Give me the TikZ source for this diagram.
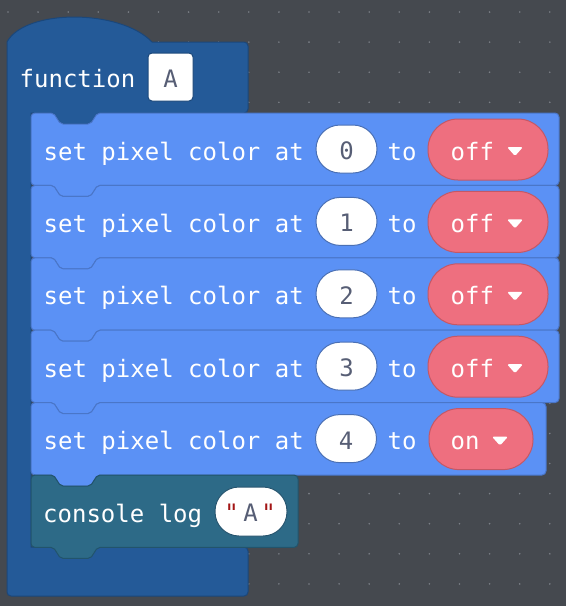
\documentclass[tikz,border=0pt]{standalone}
\usepackage{fontspec}
\newfontfamily\blkfont{DejaVu Sans Mono}
\definecolor{bgc}{HTML}{45494F}
\definecolor{dotc}{HTML}{7A7F86}
\definecolor{fnfill}{HTML}{245A98}
\definecolor{fnstroke}{HTML}{1B477A}
\definecolor{pxfill}{HTML}{5B91F5}
\definecolor{pxstroke}{HTML}{4A76C8}
\definecolor{ddfill}{HTML}{EE6F7F}
\definecolor{ddstroke}{HTML}{C45866}
\definecolor{tealfill}{HTML}{2D6A87}
\definecolor{tealstroke}{HTML}{22546C}
\definecolor{pillstroke}{HTML}{4A70B5}
\definecolor{strstroke}{HTML}{285670}
\definecolor{valtext}{HTML}{575E75}
\definecolor{quotec}{HTML}{A31515}
\newcommand\pxblock[5]{%
  \filldraw[fill=#4,draw=#5,line width=1pt]
  (#1,{#2+4}) arc[start angle=180,end angle=270,radius=4]
  -- ({#1+20},#2) .. controls ({#1+26},#2) and ({#1+26},{#2+11}) .. ({#1+32},{#2+11})
  -- ({#1+57},{#2+11}) .. controls ({#1+63},{#2+11}) and ({#1+63},#2) .. ({#1+69},#2)
  -- ({#1+#3-4},#2) arc[start angle=-90,end angle=0,radius=4]
  -- ({#1+#3},{#2+68.4}) arc[start angle=0,end angle=90,radius=4]
  -- ({#1+69},{#2+72.4}) .. controls ({#1+63},{#2+72.4}) and ({#1+63},{#2+83.4}) .. ({#1+57},{#2+83.4})
  -- ({#1+32},{#2+83.4}) .. controls ({#1+26},{#2+83.4}) and ({#1+26},{#2+72.4}) .. ({#1+20},{#2+72.4})
  -- ({#1+4},{#2+72.4}) arc[start angle=90,end angle=180,radius=4] -- cycle;}
\newcommand\ddtri[2]{%
  \fill[white,rounded corners=1.5pt] (#1,{#2+34}) -- ({#1+16},{#2+34}) -- ({#1+8},{#2+43}) -- cycle;}
\tikzset{
  blk/.style={font=\blkfont\fontsize{24}{28}\selectfont, text=white, inner sep=0pt, anchor=base west},
  valpill/.style={fill=white, draw=pillstroke, line width=1pt, rounded corners=24pt,
    minimum width=61pt, minimum height=48pt, inner sep=0pt, text height=21pt, text depth=0pt,
    font=\blkfont\fontsize{24}{28}\selectfont, text=valtext},
  ddpill/.style={fill=ddfill, draw=ddstroke, line width=1pt, rounded corners=30pt,
    minimum height=61pt, inner sep=0pt},
  namebox/.style={fill=white, draw=fnstroke, line width=1pt, rounded corners=4pt,
    minimum width=45pt, minimum height=48pt, inner sep=0pt, text height=21pt, text depth=0pt,
    font=\blkfont\fontsize{24}{28}\selectfont, text=valtext},
  qt/.style={font=\blkfont\fontsize{24}{28}\selectfont, inner sep=0pt, anchor=base}
}
\begin{document}
\begin{tikzpicture}[x=1pt,y=-1pt]
\fill[bgc] (0,0) rectangle (566,606);
\useasboundingbox (0,0) rectangle (566,606);
\foreach \i in {0,...,18} \foreach \j in {0,...,19}
  \fill[dotc] ({8+30.1*\i},{12+30.1*\j}) circle (0.9);
% function block
\filldraw[fill=fnfill,draw=fnstroke,line width=1pt]
  (7,42) .. controls (25,8.7) and (120,8.7) .. (152,42)
  -- (244,42) arc[start angle=-90,end angle=0,radius=4]
  -- (248,109) arc[start angle=0,end angle=90,radius=4]
  -- (100,113) .. controls (94,113) and (94,124) .. (88,124)
  -- (63,124) .. controls (57,124) and (57,113) .. (51,113)
  -- (31,113) -- (31,547)
  -- (244,547) arc[start angle=-90,end angle=0,radius=4]
  -- (248,592) arc[start angle=0,end angle=90,radius=4]
  -- (11,596) arc[start angle=90,end angle=180,radius=4] -- cycle;
\node[blk] (fn) at (19.5,87.5) {function};
\node[namebox] (fname) at (170.5,77) {A};
% set pixel blocks
\pxblock{31}{113}{528}{pxfill}{pxstroke}
\pxblock{31}{185.4}{528}{pxfill}{pxstroke}
\pxblock{31}{257.8}{528}{pxfill}{pxstroke}
\pxblock{31}{330.2}{528}{pxfill}{pxstroke}
\pxblock{31}{402.6}{515}{pxfill}{pxstroke}
\pxblock{31}{475}{267}{tealfill}{tealstroke}
% block 1
\node[blk] (s0) at (43.5,160) {set pixel color at};
\node[valpill] (v0) at (346.5,149) {0};
\node[blk] (t0) at (387.5,160) {to};
\node[ddpill, minimum width=120pt] (d0) at (488,149.5) {};
\node[blk] (o0) at (450.5,160) {off};
\ddtri{507}{113}
% block 2
\node[blk] (s1) at (43.5,232.4) {set pixel color at};
\node[valpill] (v1) at (346.5,221.4) {1};
\node[blk] (t1) at (387.5,232.4) {to};
\node[ddpill, minimum width=120pt] (d1) at (488,221.9) {};
\node[blk] (o1) at (450.5,232.4) {off};
\ddtri{507}{185.4}
% block 3
\node[blk] (s2) at (43.5,304.8) {set pixel color at};
\node[valpill] (v2) at (346.5,293.8) {2};
\node[blk] (t2) at (387.5,304.8) {to};
\node[ddpill, minimum width=120pt] (d2) at (488,294.3) {};
\node[blk] (o2) at (450.5,304.8) {off};
\ddtri{507}{257.8}
% block 4
\node[blk] (s3) at (43.5,377.2) {set pixel color at};
\node[valpill] (v3) at (346.5,366.2) {3};
\node[blk] (t3) at (387.5,377.2) {to};
\node[ddpill, minimum width=120pt] (d3) at (488,366.7) {};
\node[blk] (o3) at (450.5,377.2) {off};
\ddtri{507}{330.2}
% block 5
\node[blk] (s4) at (43.5,449.6) {set pixel color at};
\node[valpill] (v4) at (346,438.6) {4};
\node[blk] (t4) at (387.5,449.6) {to};
\node[ddpill, minimum width=104pt] (d4) at (481,439.1) {};
\node[blk] (o4) at (450.5,449.6) {on};
\ddtri{492}{402.6}
% console log
\node[blk] (cl) at (43,522) {console log};
\node[valpill, draw=strstroke, minimum width=72pt, minimum height=49pt] (str) at (251,511.5) {};
\node[qt, text=quotec] (q1) at (231.5,521.5) {"};
\node[qt, text=valtext] (qa) at (250.5,521.5) {A};
\node[qt, text=quotec] (q2) at (268.5,521.5) {"};
\end{tikzpicture}
\end{document}
